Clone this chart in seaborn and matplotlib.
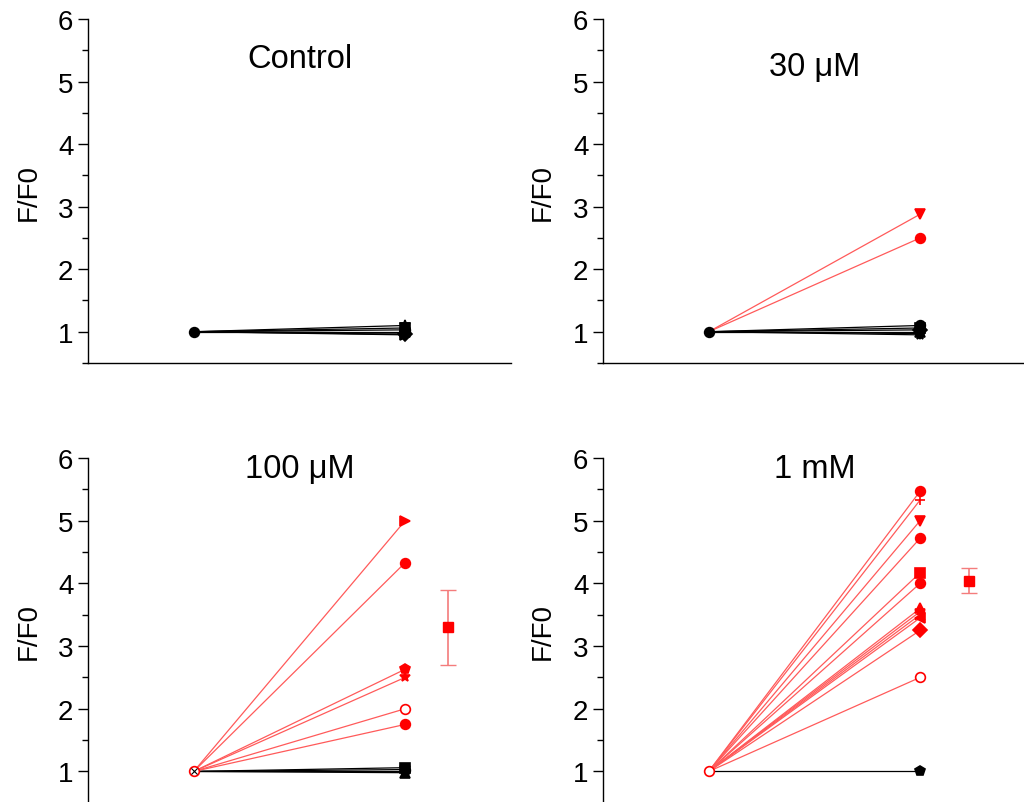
import seaborn as sns
import matplotlib.pyplot as plt
from matplotlib.ticker import MultipleLocator

# end values (start is always 1.0 at x=1, end at x=2)
control_black = [1.10, 1.06, 1.03, 1.00, 0.98, 0.96, 0.95]
control_black_mk = ['*', 's', 'o', '^', 'v', 'D', '>']

m30_red = [2.88, 2.50]
m30_red_mk = ['v', 'o']
m30_black = [1.10, 1.06, 1.03, 1.00, 0.97, 0.95]
m30_black_mk = ['o', 's', 'D', '^', 'v', '*']

m100_red = [5.00, 4.33, 2.63, 2.50, 2.00, 1.75]
m100_red_mk = ['>', 'o', 'p', '*', 'o', 'o']
m100_red_open = [False, False, False, False, True, False]
m100_black = [1.06, 1.03, 1.00, 0.98]
m100_black_mk = ['s', 'o', 'v', '^']
m100_mean, m100_err = 3.30, 0.60

mm1_red = [5.47, 5.33, 5.00, 4.72, 4.17, 4.00, 3.60, 3.55, 3.50, 3.45, 3.25, 2.50]
mm1_red_mk = ['o', '+', 'v', 'o', 's', 'o', '^', '*', 'x', '<', 'D', 'o']
mm1_red_open = [False] * 11 + [True]
mm1_black = [1.00]
mm1_black_mk = ['p']
mm1_mean, mm1_err = 4.04, 0.20

sns.set_style('ticks')
plt.rcParams['font.family'] = ['Liberation Sans', 'DejaVu Sans']
for k in ['text.color', 'axes.labelcolor', 'xtick.color', 'ytick.color', 'axes.edgecolor']:
    plt.rcParams[k] = 'black'

fig = plt.figure(figsize=(10.24, 8.03), dpi=100)
W = 423 / 1024
pos = [
    (88 / 1024, 1 - 364 / 803, W, 344 / 803),
    (603 / 1024, 1 - 364 / 803, W, 344 / 803),
    (88 / 1024, -0.001, W, 345 / 803),
    (603 / 1024, -0.001, W, 345 / 803),
]
axs = [fig.add_axes(p) for p in pos]


def draw(ax, vals, mks, color, line_color, opens=None, lw=0.9):
    for i, (v, m) in enumerate(zip(vals, mks)):
        fc = 'white' if (opens and opens[i]) else color
        sns.lineplot(x=[1, 2], y=[1.0, v], ax=ax, color=line_color, lw=lw,
                     marker=m, markevery=[1], markersize=7, markerfacecolor=fc,
                     markeredgecolor=color, markeredgewidth=1.2, legend=False)


def start(ax, color, fc):
    ax.plot([1], [1.0], marker='o', ms=7, mfc=fc, mec=color, mew=1.2, ls='none')


draw(axs[0], control_black, control_black_mk, 'black', 'black')
start(axs[0], 'black', 'black')

draw(axs[1], m30_black, m30_black_mk, 'black', 'black')
draw(axs[1], m30_red, m30_red_mk, 'red', '#ff5a5a')
start(axs[1], 'black', 'black')

draw(axs[2], m100_black, m100_black_mk, 'black', 'black')
draw(axs[2], m100_red, m100_red_mk, 'red', '#ff5a5a', opens=m100_red_open)
start(axs[2], 'red', 'white')
axs[2].plot([1], [1.0], marker='x', ms=5, color='black', mew=0.8, ls='none')
axs[2].errorbar([2.2], [m100_mean], yerr=[m100_err], fmt='s', color='red',
                ms=7, ecolor='#f47c7c', elinewidth=1.2, capsize=6)

draw(axs[3], mm1_black, mm1_black_mk, 'black', 'black')
draw(axs[3], mm1_red, mm1_red_mk, 'red', '#ff5a5a', opens=mm1_red_open)
start(axs[3], 'red', 'white')
axs[3].errorbar([2.23], [mm1_mean], yerr=[mm1_err], fmt='s', color='red',
                ms=7, ecolor='#f47c7c', elinewidth=1.2, capsize=6)

titles = ['Control', '30 \u03bcM', '100 \u03bcM', '1 mM']
title_y = [0.884, 0.863, 0.968, 0.968]
for ax, t, ty in zip(axs, titles, title_y):
    ax.set_xlim(0.5, 2.5)
    ax.set_ylim(0.5, 6)
    ax.set_xticks([])
    ax.yaxis.set_major_locator(MultipleLocator(1))
    ax.yaxis.set_minor_locator(MultipleLocator(0.5))
    ax.tick_params(axis='y', which='major', length=7, width=1, labelsize=20, direction='out')
    ax.tick_params(axis='y', which='minor', length=4, width=1, direction='out')
    ax.set_ylabel('F/F0', fontsize=20, labelpad=12)
    ax.set_xlabel('')
    ax.text(0.5, ty, t, transform=ax.transAxes, ha='center', va='center', fontsize=23.5)
    sns.despine(ax=ax)
    for s in ['left', 'bottom']:
        ax.spines[s].set_linewidth(1)

fig.savefig('out.png', dpi=100)
